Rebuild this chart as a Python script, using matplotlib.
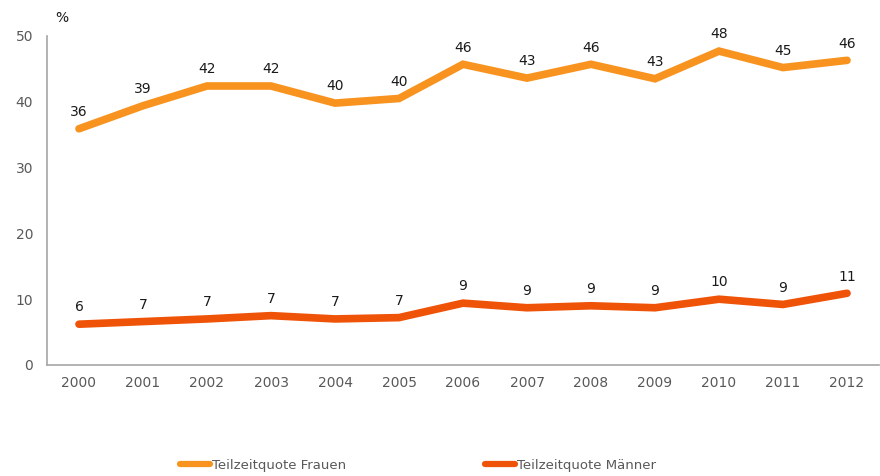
import matplotlib
matplotlib.use("Agg")
import matplotlib.pyplot as plt
from matplotlib.lines import Line2D

years = ["2000", "2001", "2002", "2003", "2004", "2005", "2006",
         "2007", "2008", "2009", "2010", "2011", "2012"]
frauen = [35.9, 39.4, 42.4, 42.4, 39.8, 40.5, 45.7, 43.6, 45.7, 43.5, 47.7, 45.2, 46.3]
maenner = [6.2, 6.6, 7.0, 7.5, 7.0, 7.2, 9.4, 8.7, 9.0, 8.7, 10.0, 9.2, 10.9]
frauen_lbl = [36, 39, 42, 42, 40, 40, 46, 43, 46, 43, 48, 45, 46]
maenner_lbl = [6, 7, 7, 7, 7, 7, 9, 9, 9, 9, 10, 9, 11]

c_f = "#F7931E"
c_m = "#EF5308"
grey = "#595959"

fig = plt.figure(figsize=(8.8, 4.76), dpi=100)
ax = fig.add_axes([0.0534, 0.2332, 0.9455, 0.6912])
x = list(range(len(years)))
ax.plot(x, frauen, color=c_f, lw=5.5, solid_capstyle="round", solid_joinstyle="miter")
ax.plot(x, maenner, color=c_m, lw=5.5, solid_capstyle="round", solid_joinstyle="miter")

for xi, v, l in zip(x, frauen, frauen_lbl):
    ax.annotate(str(l), (xi, v), xytext=(0, 7), textcoords="offset points",
                ha="center", va="bottom", fontsize=10, color="#1a1a1a")
for xi, v, l in zip(x, maenner, maenner_lbl):
    ax.annotate(str(l), (xi, v), xytext=(0, 7), textcoords="offset points",
                ha="center", va="bottom", fontsize=10, color="#1a1a1a")

ax.set_xlim(-0.5, len(years) - 0.5)
ax.set_ylim(0, 50)
ax.set_xticks(x)
ax.set_xticklabels(years)
ax.set_yticks([0, 10, 20, 30, 40, 50])
ax.tick_params(length=0, labelsize=10, labelcolor=grey, pad=8)
ax.tick_params(axis="y", pad=10)
for s in ["top", "right"]:
    ax.spines[s].set_visible(False)
for s in ["left", "bottom"]:
    ax.spines[s].set_color("#A6A6A6")
    ax.spines[s].set_linewidth(1.2)

fig.text(55/880, 1 - 18/476, "%", fontsize=10, color="#1a1a1a", ha="left", va="center")

handles = [Line2D([0], [0], color=c_f, lw=4.5, solid_capstyle="round"),
           Line2D([0], [0], color=c_m, lw=4.5, solid_capstyle="round")]
fig.legend(handles[:1], ["Teilzeitquote Frauen"], loc="center left",
           bbox_to_anchor=(180/880, 1 - 465/476), frameon=False, fontsize=9.5,
           handlelength=2.3, handletextpad=0.1, labelcolor=grey, borderpad=0, borderaxespad=0)
fig.legend(handles[1:], ["Teilzeitquote Männer"], loc="center left",
           bbox_to_anchor=(485/880, 1 - 465/476), frameon=False, fontsize=9.5,
           handlelength=2.3, handletextpad=0.1, labelcolor=grey, borderpad=0, borderaxespad=0)

fig.savefig("out.png", dpi=100)
